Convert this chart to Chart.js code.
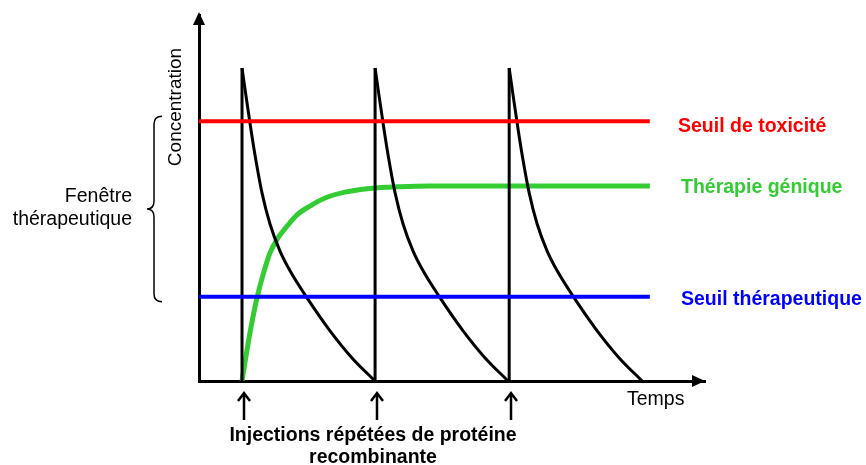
<!DOCTYPE html>
<html>
<head>
<meta charset="utf-8">
<script src="https://cdn.jsdelivr.net/npm/chart.js@4"></script>
<style>
  html, body { margin: 0; padding: 0; background: #fff; }
  #wrap { width: 866px; height: 465px; }
</style>
</head>
<body>
<div id="wrap"><canvas id="c"></canvas></div>
<script>
// values (arbitrary units, axis 0..100)
const injectionTimes = [8.5, 34.8, 61.3];
const peakLevel = 85.5;
const decayOffsets = [0, 0.79, 1.78, 2.77, 3.95, 5.53, 7.51, 9.49, 12.85, 17.39, 21.74, 26.28];
const decayLevels = [85.5, 77.9, 68.6, 60.1, 51.4, 42.9, 35.5, 30.1, 22.7, 13.7, 6.3, 0];
const geneTimes = [8.5, 9.49, 10.47, 11.46, 12.65, 14.03, 15.61, 17.39, 19.37, 21.94, 24.9, 28.85, 33.79, 39.72, 45.65, 89.1];
const geneLevels = [0, 8.5, 16.1, 22.7, 29.0, 35.0, 39.1, 42.3, 45.4, 47.8, 50.0, 51.6, 52.6, 53.1, 53.3, 53.3];
const toxicLevel = 71.0;
const therapeuticLevel = 23.0;
const lineEnd = 89.1;

const FONT = '"Liberation Sans", Arial, sans-serif';

const spikes = [];
injectionTimes.forEach(t => {
  spikes.push({x: t, y: 0}, {x: t, y: peakLevel}, {x: t, y: null});
});

const decays = injectionTimes.map(t => ({
  data: decayOffsets.map((o, i) => ({x: t + o, y: decayLevels[i]})),
  borderColor: '#000', borderWidth: 3, pointRadius: 0,
  cubicInterpolationMode: 'monotone', fill: false
}));

const extras = {
  id: 'extras',
  afterDraw(chart) {
    const ctx = chart.ctx;
    const xs = chart.scales.x, ys = chart.scales.y;
    const a = chart.chartArea;
    ctx.save();
    ctx.fillStyle = '#000';
    ctx.strokeStyle = '#000';

    // axis arrowheads
    ctx.beginPath();
    ctx.moveTo(a.left, a.top - 3);
    ctx.lineTo(a.left - 6, a.top + 10);
    ctx.lineTo(a.left + 6, a.top + 10);
    ctx.closePath();
    ctx.fill();
    ctx.beginPath();
    ctx.moveTo(a.right, a.bottom);
    ctx.lineTo(a.right - 13, a.bottom - 6);
    ctx.lineTo(a.right - 13, a.bottom + 6);
    ctx.closePath();
    ctx.fill();

    // axis names
    ctx.font = '19.5px ' + FONT;
    ctx.textBaseline = 'middle';
    ctx.textAlign = 'left';
    ctx.fillText('Temps', 627, 400);
    ctx.save();
    ctx.translate(176, 107);
    ctx.rotate(-Math.PI / 2);
    ctx.textAlign = 'center';
    ctx.font = '19px ' + FONT;
    ctx.fillText('Concentration', 0, 0);
    ctx.restore();

    // brace + window label
    const top = ys.getPixelForValue(toxicLevel) - 5;
    const bot = ys.getPixelForValue(therapeuticLevel) + 5;
    const mid = (top + bot) / 2;
    ctx.lineWidth = 1.5;
    ctx.beginPath();
    ctx.moveTo(162, top);
    ctx.quadraticCurveTo(154, top, 154, top + 8);
    ctx.lineTo(154, mid - 8);
    ctx.quadraticCurveTo(154, mid, 147, mid);
    ctx.quadraticCurveTo(154, mid, 154, mid + 8);
    ctx.lineTo(154, bot - 8);
    ctx.quadraticCurveTo(154, bot, 162, bot);
    ctx.stroke();
    ctx.textAlign = 'right';
    ctx.fillText('Fenêtre', 132, 197);
    ctx.fillText('thérapeutique', 132, 220);

    // right-hand labels
    ctx.font = 'bold 19.5px ' + FONT;
    ctx.textAlign = 'left';
    ctx.fillStyle = '#ff0000';
    ctx.fillText('Seuil de toxicité', 678, ys.getPixelForValue(toxicLevel) + 5);
    ctx.fillStyle = '#33cc33';
    ctx.fillText('Thérapie génique', 681, ys.getPixelForValue(53.3) + 2);
    ctx.fillStyle = '#0000ff';
    ctx.fillText('Seuil thérapeutique', 681, ys.getPixelForValue(therapeuticLevel) + 3);

    // injection arrows
    ctx.fillStyle = '#000';
    ctx.lineWidth = 2.5;
    injectionTimes.forEach(t => {
      const x = Math.round(xs.getPixelForValue(t)) + 2;
      ctx.beginPath();
      ctx.moveTo(x, 420);
      ctx.lineTo(x, 393);
      ctx.moveTo(x - 6, 401);
      ctx.lineTo(x, 393);
      ctx.lineTo(x + 6, 401);
      ctx.stroke();
    });
    ctx.textAlign = 'center';
    ctx.fillText('Injections répétées de protéine', 373, 436);
    ctx.fillText('recombinante', 373, 458);
    ctx.restore();
  }
};

new Chart(document.getElementById('c'), {
  type: 'line',
  data: {
    datasets: [
      {data: [{x: 0, y: toxicLevel}, {x: lineEnd, y: toxicLevel}], borderColor: '#ff0000', borderWidth: 4, pointRadius: 0},
      {data: [{x: 0, y: therapeuticLevel}, {x: lineEnd, y: therapeuticLevel}], borderColor: '#0000ff', borderWidth: 4, pointRadius: 0},
      {data: spikes, borderColor: '#000', borderWidth: 3, pointRadius: 0, spanGaps: false, tension: 0},
      ...decays,
      {data: geneTimes.map((t, i) => ({x: t, y: geneLevels[i]})), borderColor: '#33cc33', borderWidth: 5,
        pointRadius: 0, cubicInterpolationMode: 'monotone'}
    ]
  },
  options: {
    responsive: true,
    maintainAspectRatio: false,
    animation: false,
    layout: {padding: {left: 199, right: 161, top: 15, bottom: 84}},
    plugins: {legend: {display: false}, tooltip: {enabled: false}},
    scales: {
      x: {
        type: 'linear', min: 0, max: 100,
        grid: {display: false, drawTicks: false},
        ticks: {display: false},
        border: {display: true, color: '#000', width: 3},
        afterFit(s) { s.height = 0; }
      },
      y: {
        type: 'linear', min: 0, max: 100,
        grid: {display: false, drawTicks: false},
        ticks: {display: false},
        border: {display: true, color: '#000', width: 3},
        afterFit(s) { s.width = 0; }
      }
    }
  },
  plugins: [extras]
});
</script>
</body>
</html>
